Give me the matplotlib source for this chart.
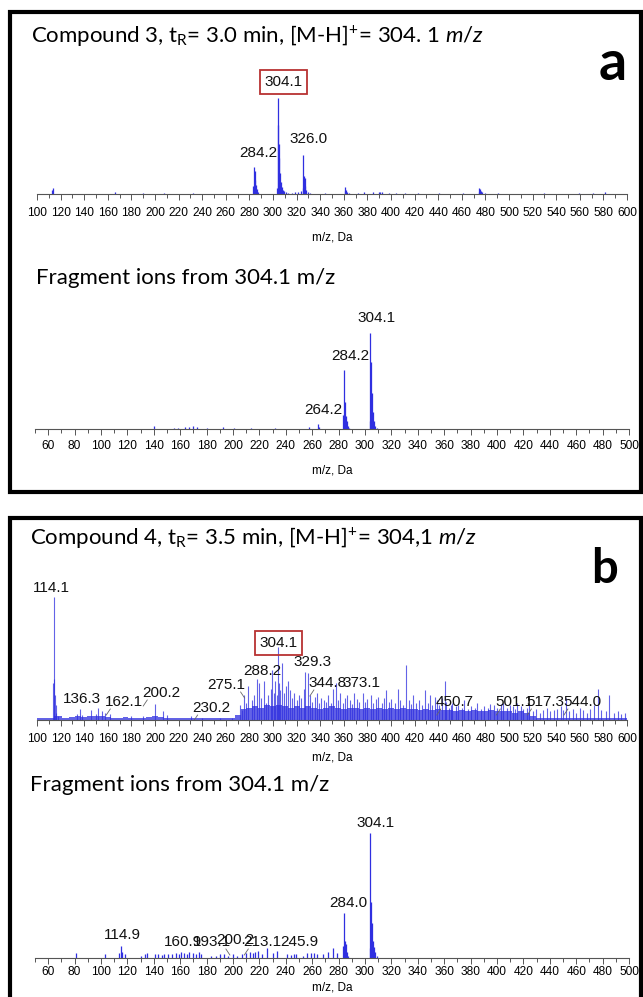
import numpy as np
import matplotlib
matplotlib.use('Agg')
import matplotlib.pyplot as plt
from matplotlib.patches import Rectangle
from matplotlib.ticker import MultipleLocator

# ---- data (m/z, relative intensity %) ----
# panel a, full scan
a1_mz = [112.7, 113.4, 166.0, 189.5, 208.0, 232.0, 283.4, 283.9, 284.4, 285.0, 285.6, 286.4, 287.3,
         303.4, 303.9, 304.3, 304.8, 305.3, 305.9, 306.6, 307.4, 308.4, 309.6, 311.0, 313.0,
         316.5, 319.0, 321.5, 323.5, 325.2, 325.8, 326.3, 326.8, 327.4, 328.2, 329.3, 331.0, 344.0,
         360.6, 361.2, 361.9, 362.7, 364.0, 372.0, 377.5, 385.0, 389.5, 391.0, 392.5, 398.0, 404.5,
         412.0, 423.0, 441.0, 461.0, 474.2, 474.9, 475.6, 476.4, 477.5, 480.0, 491.0, 530.0, 559.0,
         571.0, 581.0]
a1_int = [4, 6, 2, 1.5, 1, 1, 8, 28, 24, 15, 9, 5, 2,
          6, 100, 72, 52, 38, 22, 12, 7, 4, 3, 2, 1.5,
          1.5, 2, 2.5, 3, 6, 41, 19, 17, 8, 4, 2, 1.5, 1.5,
          3, 7, 4, 2.5, 1.5, 1.5, 2, 2, 2.5, 2, 2, 1.5, 1,
          1.5, 1.5, 1.5, 1, 2.5, 6, 5, 3, 2, 1.5, 1, 1, 1.5,
          1.5, 2]
a1_labels = ['284.2', '304.1', '326.0']

# panel a, fragments of 304.1
a2_mz = [140.0, 155.0, 158.5, 163.5, 166.5, 170.0, 172.5, 180.0, 192.5, 200.5, 214.0, 232.0, 257.5,
         264.2, 265.0, 283.6, 284.2, 284.7, 285.3, 286.0, 287.0, 288.2,
         303.6, 304.1, 304.6, 305.2, 305.9, 306.7, 307.7, 309.0]
a2_int = [3.5, 1, 1.5, 2.5, 2, 3, 2, 1, 2.5, 1, 1, 1, 2,
          5, 2, 15, 61, 28, 14, 8, 3, 1,
          8, 100, 70, 38, 18, 8, 3, 1]
a2_labels = ['264.2', '284.2', '304.1']

# panel b, full scan
b1_mz = [113.6, 114.1, 114.6, 115.2, 115.8, 116.5, 117.5, 134.0, 136.3, 138.0, 145.5, 150.0, 152.0,
         155.0, 158.0, 162.1, 180.0, 190.0, 200.2, 207.0, 210.0, 230.2, 240.0, 255.0, 265.0,
         272.0, 274.0, 275.1, 277.0, 279.0, 282.0, 284.0, 286.5, 288.2, 290.0, 292.0, 294.0, 296.0,
         298.0, 299.5, 301.0, 302.0, 303.0, 304.1, 305.0, 306.0, 307.5, 309.0, 311.0, 312.5, 314.5,
         316.0, 318.0, 320.0, 322.0, 324.0, 326.0, 327.5, 329.3, 331.0, 333.0, 335.5, 337.0, 339.0,
         341.0, 343.0, 344.8, 347.0, 349.0, 351.0, 353.0, 355.0, 357.0, 359.0, 361.0, 363.0, 365.0,
         367.0, 369.0, 371.0, 373.1, 376.0, 378.0, 380.0, 383.0, 385.0, 387.0, 389.0, 392.0, 394.0,
         396.0, 398.0, 400.0, 403.0, 406.0, 408.0, 410.0, 413.0, 415.0, 417.0, 419.0, 421.0, 424.0,
         426.0, 429.0, 431.0, 433.0, 435.0, 437.0, 439.0, 441.0, 443.0, 445.5, 447.0, 449.0, 450.7,
         452.0, 455.0, 457.0, 460.0, 462.0, 465.0, 468.0, 471.0, 473.0, 476.0, 479.0, 482.0, 484.0,
         487.0, 490.0, 493.0, 495.0, 498.0, 501.1, 503.0, 505.0, 507.0, 510.0, 512.0, 515.0, 517.3,
         520.0, 523.0, 526.0, 529.0, 532.0, 535.0, 538.0, 541.0, 544.0, 546.0, 548.0, 551.0, 554.0,
         557.0, 560.0, 563.0, 566.0, 569.0, 572.0, 575.0, 578.0, 582.0, 585.0, 589.0, 592.0, 595.0,
         598.0]
b1_int = [30, 100, 33, 20, 12, 6, 3, 5, 9, 4, 8, 5, 10,
          7, 6, 5, 3, 3, 13, 7, 4, 3, 2, 2, 2,
          12, 8, 20, 14, 28, 16, 20, 33, 30, 18, 32, 14, 20,
          25, 41, 22, 32, 20, 59, 30, 24, 46, 22, 28, 32, 24,
          18, 22, 16, 20, 18, 25, 39, 38, 20, 15, 19, 22, 14,
          18, 16, 15, 20, 14, 25, 30, 16, 22, 14, 18, 20, 16,
          13, 22, 17, 15, 22, 15, 17, 20, 14, 17, 19, 14, 18,
          24, 15, 17, 14, 25, 16, 12, 45, 16, 13, 20, 14, 16,
          12, 24, 14, 20, 12, 19, 16, 12, 18, 32, 15, 10, 12,
          14, 11, 12, 10, 16, 9, 11, 10, 14, 9, 11, 10, 13,
          12, 10, 13, 14, 10, 12, 11, 9, 14, 11, 9, 10, 13,
          7, 9, 6, 8, 10, 7, 8, 9, 11, 8, 18, 7, 9,
          6, 10, 8, 6, 9, 12, 25, 8, 7, 20, 6, 7, 5,
          6]
# unresolved background under the full scan
b1_base_mz = [100, 105, 110, 118, 125, 130, 135, 140, 145, 150, 155, 160, 165, 170, 175, 180, 185,
              190, 195, 200, 205, 210, 215, 220, 225, 230, 235, 240, 245, 250, 255, 260, 265, 270,
              275, 280, 285, 290, 295, 300, 305, 310, 315, 320, 325, 330, 335, 340, 345, 350, 355,
              360, 365, 370, 375, 380, 385, 390, 395, 400, 405, 410, 415, 420, 425, 430, 435, 440,
              445, 450, 455, 460, 465, 470, 475, 480, 485, 490, 495, 500, 505, 510, 515, 520, 525,
              530, 540, 550, 560, 570, 580, 590, 600]
b1_base_int = [1.5, 2, 1.5, 3, 2, 2.5, 3, 2.5, 3, 3.5, 3, 2.5, 2, 2, 2.5, 2, 2,
               2, 2.5, 3, 2.5, 2, 1.5, 1.5, 1.5, 1.5, 2, 1.5, 1.5, 2, 1.5, 1.5, 2, 4,
               9, 10, 11, 10, 12, 11, 12, 11, 10, 11, 10, 11, 10, 9, 10, 11, 10,
               9, 10, 10, 9, 10, 9, 10, 9, 10, 9, 10, 9, 9, 8, 9, 8, 9,
               8, 8, 7, 8, 7, 8, 7, 7, 8, 7, 7, 7, 6, 7, 6, 3, 2,
               2, 2, 1.5, 2, 1.5, 2, 1.5, 1.5]
b1_labels = ['114.1', '136.3', '162.1', '200.2', '230.2', '275.1', '288.2', '304.1', '329.3',
             '344.8', '373.1', '450.7', '501.1', '517.3', '544.0']

# panel b, fragments of 304.1
b2_mz = [81.0, 103.0, 113.5, 114.9, 116.0, 118.0, 130.0, 133.0, 135.0, 141.0, 143.0, 146.0, 148.0,
         151.0, 154.0, 157.0, 159.0, 160.9, 163.0, 165.0, 167.0, 170.0, 172.0, 174.0, 176.0, 183.0,
         187.0, 190.0, 193.1, 196.0, 200.2, 203.0, 207.0, 210.0, 213.1, 215.0, 217.0, 219.0, 222.0,
         226.0, 230.0, 233.0, 241.0, 244.0, 245.9, 248.0, 253.0, 256.0, 259.0, 261.0, 264.0, 268.0,
         272.0, 276.0, 279.0, 283.5, 284.0, 284.6, 285.3, 286.2, 287.2,
         303.6, 304.1, 304.6, 305.2, 305.9, 306.7, 307.6, 308.8]
b2_int = [4, 3, 4, 10, 5, 3, 2, 3, 4, 3, 3, 2.5, 3,
          3.5, 3, 4, 3, 4.5, 4, 3, 5, 4, 3, 5, 3, 2,
          2, 3, 3, 2, 3, 2, 3, 4, 5, 4, 5, 6, 3,
          8, 4, 6, 3, 2.5, 3, 3, 2, 4, 4, 4, 3, 3,
          5, 8, 4, 10, 36, 14, 11, 5, 2,
          8, 100, 45, 28, 14, 9, 5, 2]
b2_labels = ['114.9', '160.9', '193.1', '200.2', '213.1', '245.9', '284.0', '304.1']

titles = [r'Compound 3, t$_\mathregular{R}$= 3.0 min, [M-H]$^\mathregular{+}$= 304. 1 $\mathit{m/z}$',
          'Fragment ions from 304.1 m/z',
          r'Compound 4, t$_\mathregular{R}$= 3.5 min, [M-H]$^\mathregular{+}$= 304,1 $\mathit{m/z}$',
          'Fragment ions from 304.1 m/z']

# ---- layout ----
W, H = 643, 997
fig = plt.figure(figsize=(W / 100, H / 100), dpi=100)
plt.rcParams['mathtext.fontset'] = 'custom'
plt.rcParams['mathtext.rm'] = 'Lato'
plt.rcParams['mathtext.it'] = 'Lato:italic'
TITLE_FONT = 'Lato'
NUM_FONT = ['Liberation Sans', 'DejaVu Sans']
BLUE = '#2f2fe0'
RED = '#b83232'


def fx(x):
    return x / W


def fy(y):
    return 1 - y / H


def make_axes(x0, x1, base, top, lo, hi, peak_px, tickpad, labelpad):
    ax = fig.add_axes([fx(x0), fy(base), (x1 - x0) / W, (base - top) / H])
    ax.set_xlim(lo, hi)
    ax.set_ylim(0, 100 * (base - top) / peak_px)
    for s in ['left', 'right', 'top']:
        ax.spines[s].set_visible(False)
    ax.spines['bottom'].set_color('#555555')
    ax.spines['bottom'].set_linewidth(0.8)
    ax.set_yticks([])
    ax.xaxis.set_major_locator(MultipleLocator(20))
    ax.xaxis.set_minor_locator(MultipleLocator(10))
    ax.tick_params(axis='x', which='major', length=4, width=0.7, color='#555555', pad=tickpad,
                   labelsize=8.6)
    ax.tick_params(axis='x', which='minor', length=3, width=0.7, color='#555555')
    for t in ax.get_xticklabels():
        t.set_family(NUM_FONT)
    ax.set_xlabel('m/z, Da', family=NUM_FONT, fontsize=8.5, labelpad=labelpad)
    ax.patch.set_alpha(0)
    return ax


def peak_height(mzs, ints, m):
    return max(i for x, i in zip(mzs, ints) if abs(x - m) < 0.8)


def put_labels(ax, mzs, ints, labels, layout, boxed=None, leaders=()):
    for lab in labels:
        m = float(lab)
        dx, h = layout[lab]
        kw = {}
        if lab == boxed:
            kw['bbox'] = dict(boxstyle='square,pad=0.3', fc='none', ec=RED, lw=1.3)
        ax.annotate(lab, xy=(m, 0), xytext=(dx * 0.72, h * 0.72), textcoords='offset points',
                    ha='center', va='center', fontsize=11, family=NUM_FONT, color='#111111',
                    annotation_clip=False, **kw)
        if lab in leaders:
            s = 1 if dx >= 0 else -1
            tr = ax.transData
            lx = tr.transform((m, 0))[0] + dx - s * 14
            ly = tr.transform((m, 0))[1] + h - 7
            inv = tr.inverted()
            p0 = inv.transform((lx, ly))
            p1 = inv.transform((lx - s * 4, ly - 6))
            ax.plot([p0[0], p1[0]], [p0[1], p1[1]], color='#666666', lw=0.6)


# frames
fig.patches.append(Rectangle((fx(10), fy(492)), (641 - 10) / W, (492 - 12) / H,
                             transform=fig.transFigure, fill=False, ec='black', lw=3))
fig.patches.append(Rectangle((fx(10), fy(1010)), (641 - 10) / W, (1010 - 518) / H,
                             transform=fig.transFigure, fill=False, ec='black', lw=3))

# panel a / full scan
ax1 = make_axes(37, 627, 194, 60, 100, 600, 96, 5, 9)
ax1.vlines(a1_mz, 0, a1_int, color=BLUE, lw=0.9)
put_labels(ax1, a1_mz, a1_int, a1_labels,
           {'284.2': (4, 41), '304.1': (6, 112), '326.0': (5, 55)}, boxed='304.1')

# panel a / fragments
ax2 = make_axes(35, 629, 429, 300, 50, 500, 96, 4, 9)
ax2.vlines(a2_mz, 0, a2_int, color=BLUE, lw=0.9)
put_labels(ax2, a2_mz, a2_int, a2_labels,
           {'264.2': (6, 19), '284.2': (6, 73), '304.1': (6, 111)})

# panel b / full scan
ax3 = make_axes(37, 627, 720, 580, 100, 600, 123, 5, 5)
ax3.fill_between(b1_base_mz, 0, b1_base_int, color=BLUE, alpha=0.75, lw=0, step='mid')
ax3.vlines(b1_mz, 0, b1_int, color=BLUE, lw=0.8, alpha=0.75)
put_labels(ax3, b1_mz, b1_int, b1_labels,
           {'114.1': (-2, 132), '136.3': (2, 21), '162.1': (14, 18), '200.2': (6, 27),
            '230.2': (21, 12), '275.1': (-17, 35), '288.2': (3, 49), '304.1': (1, 77),
            '329.3': (5, 58), '344.8': (2, 37), '373.1': (2, 37), '450.7': (4, 18),
            '501.1': (4, 18), '517.3': (16, 18), '544.0': (21, 18)},
           boxed='304.1',
           leaders=('162.1', '200.2', '230.2', '275.1', '344.8', '450.7', '501.1', '517.3',
                    '544.0'))

# panel b / fragments
ax4 = make_axes(35, 629, 958, 800, 50, 500, 125, 1.5, 3)
ax4.vlines(b2_mz, 0, b2_int, color=BLUE, lw=0.9)
put_labels(ax4, b2_mz, b2_int, b2_labels,
           {'114.9': (2, 23), '160.9': (2, 16), '193.1': (-12, 16), '200.2': (2, 18),
            '213.1': (12, 16), '245.9': (6, 16), '284.0': (4, 55), '304.1': (5, 135)},
           leaders=('193.1', '213.1'))

# titles and panel letters
for (x, y), t in zip([(31, 35), (36, 278), (30, 537), (30, 785)], titles):
    fig.text(fx(x), fy(y), t, family=TITLE_FONT, fontsize=16, ha='left', va='center')
fig.text(fx(613), fy(64), 'a', family=TITLE_FONT, fontsize=40, fontweight='bold',
         ha='center', va='center')
fig.text(fx(605), fy(569), 'b', family=TITLE_FONT, fontsize=34, fontweight='bold',
         ha='center', va='center')

fig.savefig('out.png', dpi=100, facecolor='white')
